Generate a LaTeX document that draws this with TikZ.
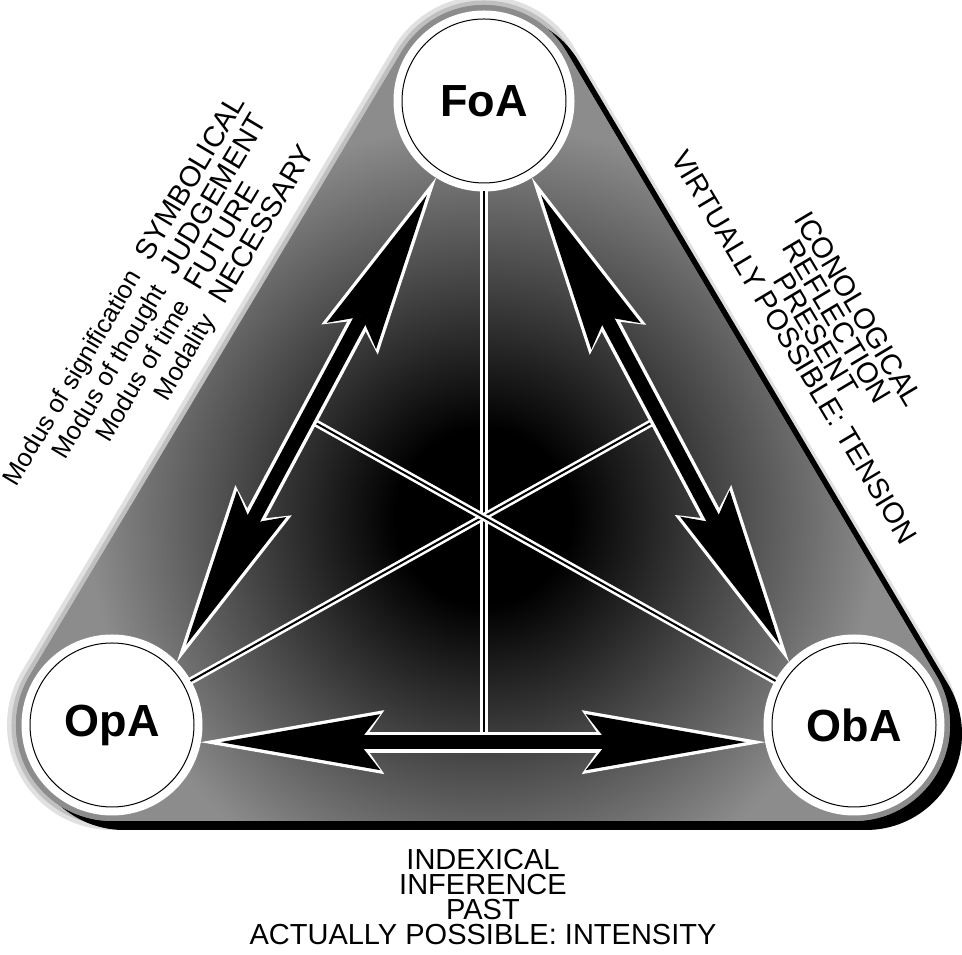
\documentclass[tikz,border=0pt]{standalone}
\usepackage{fontspec}
\setmainfont{Liberation Sans}
\usepackage{array}
\usetikzlibrary{arrows.meta}
\usetikzlibrary{calc}

\colorlet{edgegray}{black!45}
\colorlet{midgray}{black!72}
\pgfdeclareradialshading{triglow}{\pgfpoint{0bp}{0bp}}{color(0bp)=(black); color(4bp)=(black); color(11bp)=(midgray); color(18bp)=(edgegray); color(50bp)=(edgegray)}

% rounded triangle round the three centres
\newcommand\trishape{($(fo)+(149.2:96)$) -- ($(op)+(149.2:96)$) arc[start angle=149.2,end angle=270,radius=96] -- ($(ob)+(-90:96)$) arc[start angle=-90,end angle=30.8,radius=96] -- ($(fo)+(30.8:96)$) arc[start angle=30.8,end angle=149.2,radius=96] -- cycle}

\begin{document}
\begin{tikzpicture}[x=1pt,y=1pt,
  circ/.style={circle,fill=white,draw=black,line width=1pt,minimum size=164pt,inner sep=0pt,outer sep=8pt,
    preaction={draw=white,line width=17pt},font=\bfseries\fontsize{45}{45}\selectfont},
  axis/.style={draw=white,double=black,line width=2.6pt,double distance=2pt},
  arrw/.style={white,line width=21pt,>={Stealth[length=184pt,width=64pt,inset=22pt,line width=0pt]},<->},
  arrb/.style={black,line width=14pt,shorten <=20pt,shorten >=20pt,>={Stealth[length=160pt,width=56pt,inset=22pt,line width=0pt]},<->},
  caps/.style={font=\fontsize{29}{25}\selectfont,align=center}]
\useasboundingbox (0,0) rectangle (962,955);
\coordinate (fo) at (484,854);
\coordinate (op) at (112,230);
\coordinate (ob) at (854,230);
\coordinate (cen) at (483.3,438);

% background
\draw[black!12,line width=18pt] \trishape;
\draw[black!25,line width=9pt] \trishape;
\fill[black,transform canvas={shift={(12pt,-9pt)}}] \trishape;
\fill[edgegray] \trishape;
\begin{scope}
\clip \trishape;
\shade[shading=triglow] (cen) circle (550);
\end{scope}

\node[circ] (FoA) at (fo) {FoA};
\node[circ] (OpA) at (op) {OpA};
\node[circ] (ObA) at (ob) {ObA};

% the three axes
\coordinate (rEnd) at ($(op)!1.474!(cen)$);
\coordinate (lEnd) at ($(ob)!1.474!(cen)$);
\coordinate (bEnd) at (FoA |- OpA.-11);
\draw[axis] (FoA) -- (bEnd);
\draw[axis] (OpA) -- (rEnd);
\draw[axis] (ObA) -- (lEnd);

% double arrows
\draw[arrw] (OpA.44) -- (FoA.238);
\draw[arrb] (OpA.44) -- (FoA.238);
\draw[arrw] (ObA.136) -- (FoA.302);
\draw[arrb] (ObA.136) -- (FoA.302);
\draw[arrw] (OpA.-11) -- (ObA.191);
\draw[arrb] (OpA.-11) -- (ObA.191);

% texts
\node[rotate=59.2] (symb) at (163,641) {\fontsize{29}{28}\selectfont\begin{tabular}{@{}>{\fontsize{25.5}{28}\selectfont}r@{\hspace{17pt}}l@{}}
Modus of signification & SYMBOLICAL\\
Modus of thought & JUDGEMENT\\
Modus of time & FUTURE\\
Modality & NECESSARY
\end{tabular}};
\node[caps,rotate=-59.2] (icon) at (826.5,627) {ICONOLOGICAL\\REFLECTION\\PRESENT\\VIRTUALLY POSSIBLE: TENSION};
\node[caps,anchor=south,inner sep=0pt] (index) at (483,10) {INDEXICAL\\INFERENCE\\PAST\\ACTUALLY POSSIBLE: INTENSITY};
\end{tikzpicture}
\end{document}
